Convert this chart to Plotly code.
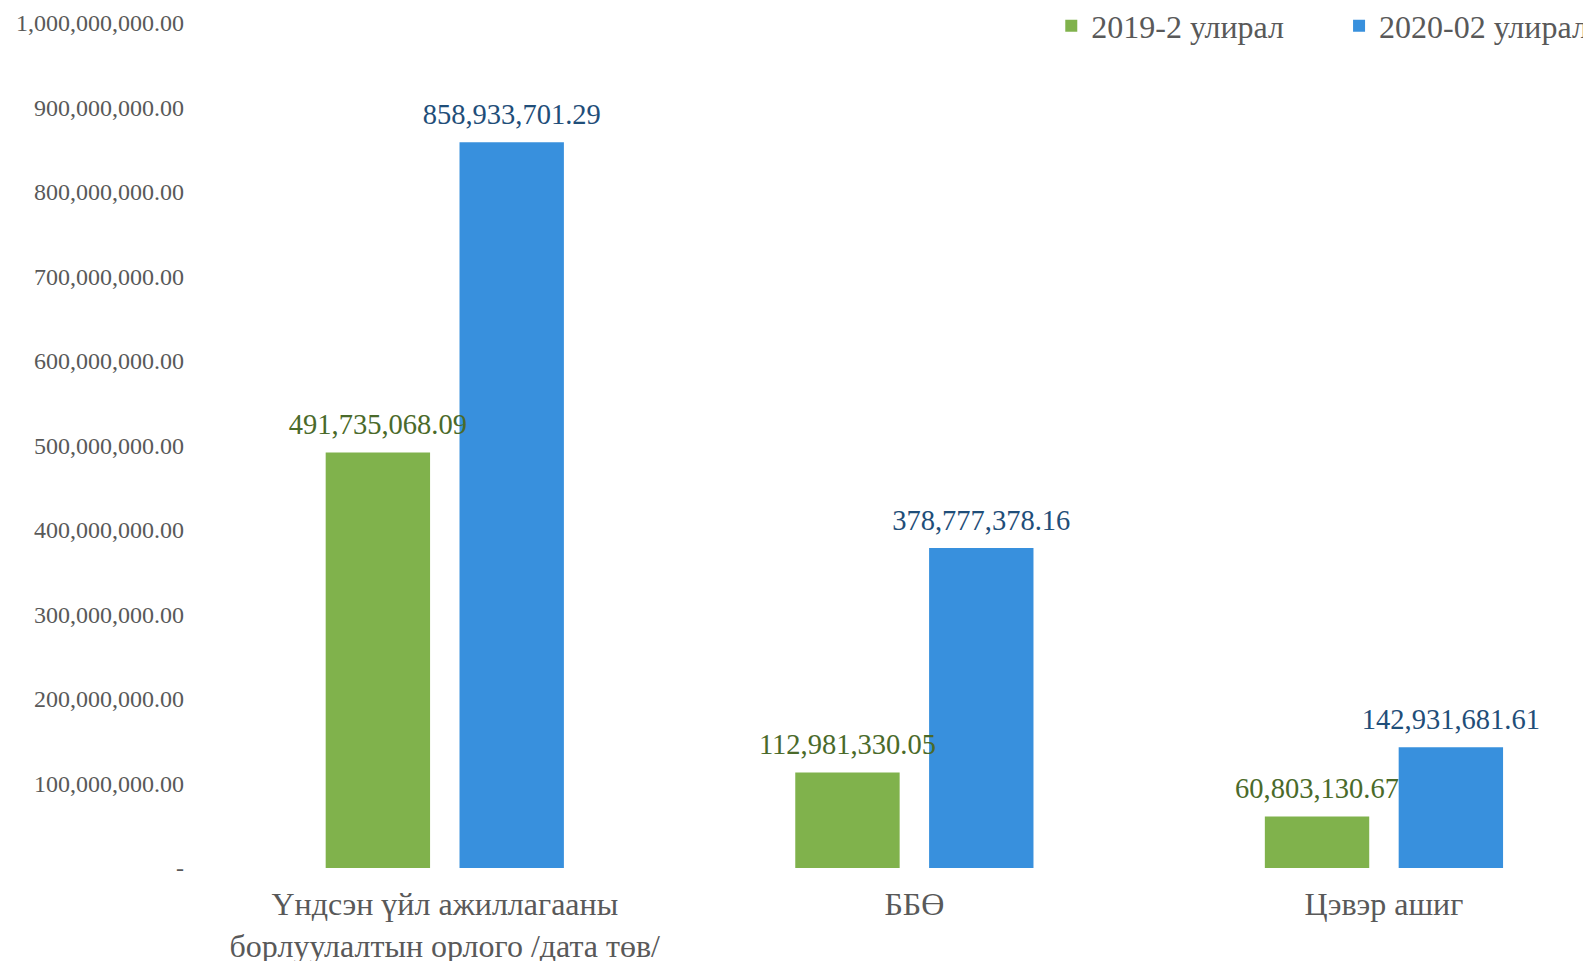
import plotly.graph_objects as go

categories = ["Үндсэн үйл ажиллагааны<br>борлуулалтын орлого /дата төв/", "ББӨ", "Цэвэр ашиг"]
series_names = ["2019-2 улирал", "2020-02 улирал"]
values_2019 = [491735068.09, 112981330.05, 60803130.67]
values_2020 = [858933701.29, 378777378.16, 142931681.61]
tick_values = [0, 100000000, 200000000, 300000000, 400000000, 500000000,
               600000000, 700000000, 800000000, 900000000, 1000000000]
tick_labels = ["-", "100,000,000.00", "200,000,000.00", "300,000,000.00", "400,000,000.00",
               "500,000,000.00", "600,000,000.00", "700,000,000.00", "800,000,000.00",
               "900,000,000.00", "1,000,000,000.00"]

FONT = "Liberation Serif"
bar_colors = ["#80B24C", "#3890DD"]
label_colors = ["#4A6A2A", "#1F4E79"]
legend_ids = ["legend", "legend2"]

fig = go.Figure()
for i, (name, vals, bc, lg) in enumerate(zip(series_names, [values_2019, values_2020], bar_colors, legend_ids)):
    fig.add_trace(go.Bar(
        x=categories, y=vals, name=name,
        marker=dict(color=bc, line=dict(width=0)),
        offsetgroup=str(i),
        legend=lg,
    ))
for i, (vals, lc) in enumerate(zip([values_2019, values_2020], label_colors)):
    fig.add_trace(go.Scatter(
        x=categories, y=vals, mode="markers+text",
        marker=dict(size=16, color="rgba(0,0,0,0)"),
        text=[f"{v:,.2f}" for v in vals],
        textposition="top center",
        textfont=dict(family=FONT, size=28.5, color=lc),
        offsetgroup=str(i),
        showlegend=False, hoverinfo="skip",
        cliponaxis=False,
    ))

legend_style = dict(
    orientation="h", xanchor="left", y=0.9965, yanchor="middle",
    font=dict(family=FONT, size=32, color="#595959"),
    bgcolor="rgba(0,0,0,0)",
    entrywidth=225,
)

fig.update_layout(
    width=1599, height=959,
    margin=dict(l=202, r=0, t=15, b=99, autoexpand=False),
    paper_bgcolor="white", plot_bgcolor="white",
    barmode="group", bargap=0.43, bargroupgap=0.22,
    scattermode="group", scattergap=0.43,
    font=dict(family=FONT, color="#595959"),
    showlegend=True,
    legend=dict(x=0.6022, **legend_style),
    legend2=dict(x=0.8082, **legend_style),
)
fig.update_xaxes(
    range=[-0.5, 2.475],
    showgrid=False, showline=False, zeroline=False, ticks="",
    tickfont=dict(family=FONT, size=32, color="#595959"),
    ticklabelstandoff=14,
    automargin=False,
)
fig.update_yaxes(
    range=[0, 1000000000], tickvals=tick_values, ticktext=tick_labels,
    showgrid=False, showline=False, zeroline=False, ticks="",
    tickfont=dict(family=FONT, size=24, color="#595959"),
    ticklabelstandoff=25,
    automargin=False,
)

fig.write_html("out.html")
